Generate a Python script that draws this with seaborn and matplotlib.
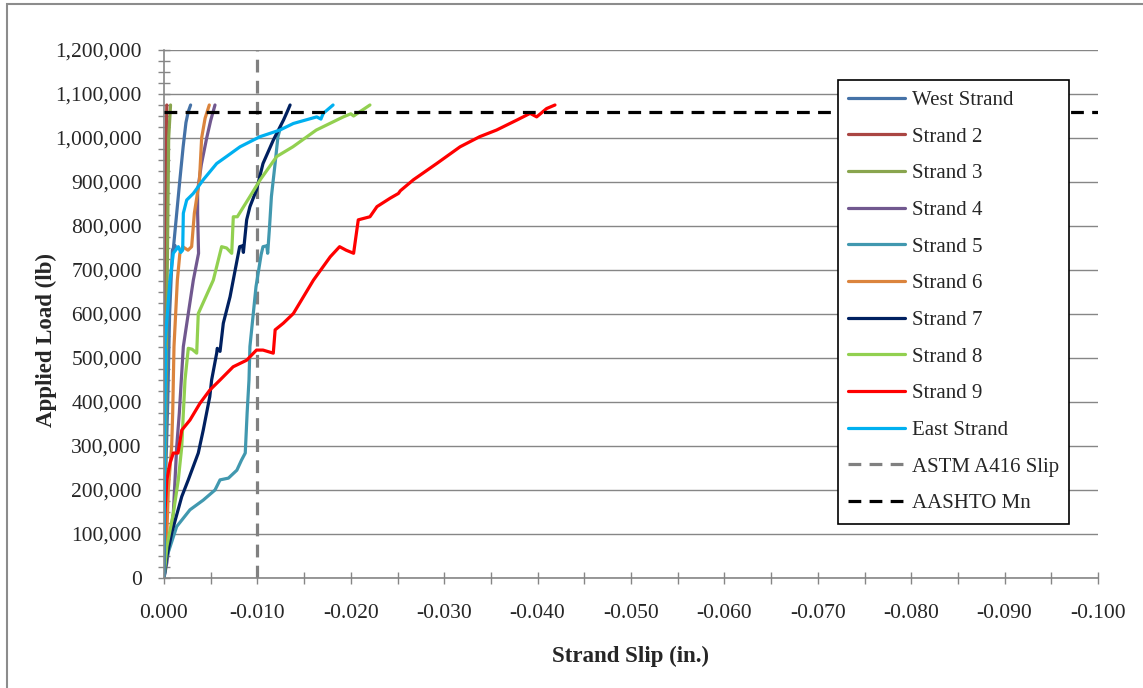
import numpy as np
import pandas as pd
import seaborn as sns
import matplotlib.pyplot as plt
from matplotlib.ticker import MultipleLocator, FuncFormatter
from matplotlib.patches import Rectangle

# slip in thousandths of an inch (plotted as negative inches), load in kips
west_slip = [0, 0.1, 0.2, 0.4, 0.6, 0.9, 1.2, 1.0, 1.36, 1.7, 2.05, 2.35, 2.6, 2.85]
west_load = [0, 100, 250, 400, 600, 745, 755, 748, 829, 905, 980, 1035, 1060, 1075]

s2_slip = [0, 0.05, 0.1, 0.15, 0.2, 0.25, 0.3]
s2_load = [0, 200, 400, 600, 800, 1000, 1075]

s3_slip = [0, 0.1, 0.2, 0.3, 0.4, 0.5, 0.7]
s3_load = [0, 200, 400, 600, 800, 1000, 1075]

s4_slip = [0, 0.3, 1.0, 1.36, 1.64, 2.07, 2.6, 3.14, 3.7, 3.6, 3.6, 4.0, 4.57, 5.0, 5.46]
s4_load = [0, 34, 148, 298, 375, 526, 601, 677, 738, 829, 880, 940, 1000, 1040, 1075]

s5_slip = [0, 0.3, 1.36, 2.78, 4.2, 5.46, 6.0, 6.9, 7.8, 8.3, 8.7, 8.9, 9.1, 9.2, 9.56, 9.85,
           10.4, 10.6, 11.0, 11.1, 11.3, 11.5, 11.9, 12.2, 12.5]
s5_load = [0, 48, 117, 155, 177, 200, 223, 227, 245, 268, 284, 375, 450, 526, 601, 662,
           735, 753, 755, 738, 798, 867, 943, 1003, 1026]

s6_slip = [0, 0.3, 0.46, 0.82, 0.93, 1.07, 1.43, 1.7, 2.0, 2.57, 2.96, 3.25, 3.8, 4.03, 4.4, 4.85]
s6_load = [0, 100, 200, 299, 374, 526, 677, 738, 753, 745, 753, 829, 905, 1000, 1045, 1075]

s7_slip = [0, 0.29, 0.82, 1.9, 2.6, 3.67, 4.2, 4.9, 5.1, 5.64, 5.7, 6.0, 6.35, 7.07, 7.8, 8.1, 8.4, 8.5,
           8.85, 9.2, 9.9, 10.6, 11.7, 12.8, 13.2, 13.5]
s7_load = [0, 48, 102, 185, 223, 284, 336, 412, 450, 511, 522, 515, 579, 639, 720, 753, 755, 740,
           814, 844, 882, 942, 995, 1041, 1060, 1075]

s8_slip = [0, 0.3, 1.0, 1.53, 1.9, 2.07, 2.25, 2.6, 3.0, 3.5, 3.67, 5.28, 6.17, 6.7, 7.25, 7.42, 7.85,
           9.2, 10.3, 12.07, 13.8, 16.3, 19.2, 20.0, 20.3, 22.05]
s8_load = [0, 71, 147, 223, 298, 375, 450, 522, 520, 511, 601, 677, 753, 750, 738, 821, 821,
           867, 905, 958, 980, 1018, 1048, 1055, 1050, 1075]

s9_slip = [0, 0.05, 0.1, 0.3, 0.64, 1.0, 1.5, 1.9, 2.78, 3.85, 4.9, 6.0, 7.4, 8.85, 9.9, 10.6, 11.7,
           11.9, 12.77, 13.85, 16.0, 17.8, 18.8, 19.5, 20.3, 20.8, 22.05, 22.8, 24.2, 25.1, 25.3,
           26.7, 29.2, 31.7, 33.8, 35.6, 37.8, 39.2, 39.9, 40.97, 41.86]
s9_load = [0, 80, 147, 223, 261, 284, 284, 336, 359, 397, 427, 450, 480, 495, 518, 518, 511,
           564, 579, 601, 677, 730, 753, 745, 738, 814, 821, 844, 863, 874, 880,
           905, 942, 980, 1003, 1018, 1041, 1056, 1048, 1067, 1075]

east_slip = [0, 0.05, 0.1, 0.2, 0.1, 0.36, 0.64, 1.0, 1.53, 1.8, 2.0, 2.07, 2.43, 3.14, 4.2,
             5.64, 6.7, 8.14, 10.28, 12.4, 13.85, 16.35, 16.8, 17.05, 18.1]
east_load = [0, 200, 400, 515, 530, 601, 677, 738, 753, 740, 745, 829, 859, 874, 905,
             942, 958, 980, 1003, 1018, 1033, 1048, 1043, 1056, 1075]

series_names = ["West Strand", "Strand 2", "Strand 3", "Strand 4", "Strand 5",
                "Strand 6", "Strand 7", "Strand 8", "Strand 9", "East Strand"]
series_slips = [west_slip, s2_slip, s3_slip, s4_slip, s5_slip, s6_slip, s7_slip, s8_slip, s9_slip, east_slip]
series_loads = [west_load, s2_load, s3_load, s4_load, s5_load, s6_load, s7_load, s8_load, s9_load, east_load]
colors = ["#4572A7", "#AA4643", "#89A54E", "#71588F", "#4198AF",
          "#DB843D", "#002060", "#92D050", "#FF0000", "#00B0F0"]

astm_slip = -0.010
aashto_mn = 1058000

frames = []
for name, sl, ld in zip(series_names, series_slips, series_loads):
    frames.append(pd.DataFrame({"slip": [-v / 1000.0 for v in sl],
                                "load": [v * 1000.0 for v in ld],
                                "series": name}))
df = pd.concat(frames, ignore_index=True)

sns.set_style("white")
plt.rcParams['font.family'] = ['Liberation Serif', 'DejaVu Serif']
plt.rcParams['axes.unicode_minus'] = False

fig = plt.figure(figsize=(11.43, 6.88), dpi=100)
ax = fig.add_axes([164 / 1143, 1 - 578 / 688, 934 / 1143, 528 / 688])

sns.lineplot(data=df, x="slip", y="load", hue="series", hue_order=series_names,
             palette=dict(zip(series_names, colors)), sort=False, estimator=None,
             units="series", linewidth=2.3, ax=ax)

ax.axvline(astm_slip, color="#808080", linestyle=(0, (4, 2.6)), linewidth=2.3, label="ASTM A416 Slip", zorder=1)
ax.axhline(aashto_mn, color="black", linestyle=(0, (4, 2.6)), linewidth=2.3, label="AASHTO Mn", zorder=5)

ax.set_xlim(0, -0.1)
ax.set_ylim(0, 1200000)
ax.xaxis.set_major_locator(MultipleLocator(0.01))
ax.xaxis.set_minor_locator(MultipleLocator(0.005))
ax.yaxis.set_major_locator(MultipleLocator(100000))
ax.yaxis.set_minor_locator(MultipleLocator(25000))
ax.xaxis.set_major_formatter(FuncFormatter(lambda v, p: "{:.3f}".format(v) if abs(v) > 1e-9 else "0.000"))
ax.yaxis.set_major_formatter(FuncFormatter(lambda v, p: "{:,.0f}".format(v)))
ax.tick_params(which="both", direction="inout", length=8, width=1, color="#868686",
               labelsize=15.5, bottom=True, left=True)
ax.tick_params(axis="x", pad=15)
ax.tick_params(axis="y", pad=12)

ax.grid(axis="y", color="#868686", linewidth=1)
ax.set_axisbelow(True)
for side in ["top", "right"]:
    ax.spines[side].set_visible(False)
for side in ["left", "bottom"]:
    ax.spines[side].set_color("#868686")
    ax.spines[side].set_linewidth(1.2)

ax.set_xlabel("Strand Slip (in.)", fontsize=16.5, fontweight="bold")
ax.set_ylabel("Applied Load (lb)", fontsize=16.5, fontweight="bold")
ax.xaxis.set_label_coords(0.499, (578 - 656) / 528)
ax.yaxis.set_label_coords((46 - 164) / 934, (578 - 340) / 528)
ax.xaxis.label.set_va("center")
ax.yaxis.label.set_va("center")
ax.yaxis.label.set_ha("center")

handles, labels = ax.get_legend_handles_labels()
leg = ax.legend(handles, labels, loc="upper left", bbox_to_anchor=(0.7216, 0.943),
                borderaxespad=0, fontsize=15, frameon=True, fancybox=False,
                edgecolor="black", framealpha=1, handlelength=2.74, labelspacing=0.82,
                borderpad=0.5, handletextpad=0.3)
leg.get_frame().set_linewidth(1.2)
leg.set_zorder(10)

fig.patches.append(Rectangle((7 / 1143, -0.1), 2, 1.1 - 4 / 688, transform=fig.transFigure,
                             fill=False, edgecolor="#8c8c8c", linewidth=1.5))

fig.savefig("out.png", dpi=100)
